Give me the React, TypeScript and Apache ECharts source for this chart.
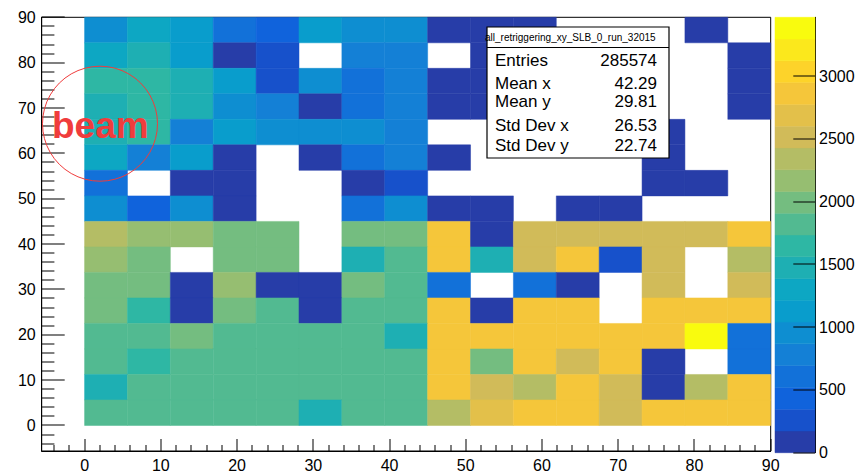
import React, { useEffect, useRef } from "react";
import * as echarts from "echarts";

// Histogram binning: 16 x 16 bins spanning 0..90 on both axes, frame starts one bin below 0
const N_BINS = 16;
const HIST_MAX = 90;
const BIN_WIDTH = HIST_MAX / N_BINS;
const FRAME_MIN = -BIN_WIDTH;

// Bin contents, one list per y bin, from the top row (y 84.4-90) down to the bottom row (y 0-5.6)
const countsByRow: number[][] = [
  [960, 1290, 1130, 610, 440, 1150, 940, 990, 110, 70, 130, 0, 0, 0, 95, 0],
  [1310, 1480, 1110, 120, 280, 0, 790, 760, 0, 105, 85, 0, 0, 0, 0, 140],
  [1660, 1690, 1450, 1100, 300, 920, 620, 800, 90, 120, 60, 80, 0, 0, 0, 100],
  [1500, 1640, 1470, 980, 770, 130, 600, 810, 140, 110, 0, 0, 0, 0, 0, 125],
  [1430, 1700, 820, 1140, 900, 950, 1010, 780, 0, 0, 0, 0, 0, 115, 0, 0],
  [1320, 800, 1090, 100, 0, 150, 650, 830, 120, 0, 0, 0, 0, 90, 0, 0],
  [640, 0, 140, 95, 0, 0, 60, 250, 0, 0, 0, 0, 0, 130, 110, 0],
  [1000, 450, 940, 125, 0, 0, 580, 900, 105, 80, 0, 135, 90, 0, 0, 0],
  [2350, 2170, 2120, 1990, 2010, 0, 1960, 2030, 2870, 150, 2500, 2540, 2480, 2520, 2560, 2900],
  [2200, 2050, 0, 1950, 2000, 0, 1480, 1820, 2850, 1500, 2470, 2880, 300, 2530, 0, 2330],
  [1980, 2040, 120, 2190, 90, 145, 2020, 1850, 640, 0, 620, 110, 0, 2500, 0, 2450],
  [1940, 1680, 130, 2000, 1800, 100, 1780, 1840, 2900, 120, 2860, 2820, 0, 2890, 2840, 2910],
  [1810, 1860, 1950, 1840, 1790, 1830, 1870, 1450, 2880, 2850, 2900, 2870, 2830, 2860, 3468, 630],
  [1800, 1700, 1830, 1850, 1820, 1790, 1860, 1810, 2890, 2010, 2870, 2520, 2840, 140, 0, 650],
  [1460, 1820, 1840, 1800, 1850, 1810, 1790, 1830, 2860, 2480, 2300, 2900, 2510, 120, 2350, 2880],
  [1840, 1800, 1820, 1860, 1790, 1470, 1810, 1850, 2320, 2650, 2880, 2850, 2540, 2900, 2870, 2830],
];

// Axis tick values
const majorTicks = [0, 10, 20, 30, 40, 50, 60, 70, 80, 90];
const minorTicks = [
  -4, -2, 2, 4, 6, 8, 12, 14, 16, 18, 22, 24, 26, 28, 32, 34, 36, 38, 42, 44, 46, 48,
  52, 54, 56, 58, 62, 64, 66, 68, 72, 74, 76, 78, 82, 84, 86, 88,
];
const zTicks = [0, 500, 1000, 1500, 2000, 2500, 3000];

// Statistics box
const statsTitle = "all_retriggering_xy_SLB_0_run_32015";
const statsLabels = ["Entries", "Mean x", "Mean y", "Std Dev x", "Std Dev y"];
const statsValues = ["285574", "42.29", "29.81", "26.53", "22.74"];

// ROOT kBird palette, 20 contour levels
const BIRD_STOPS = [0, 0.125, 0.25, 0.375, 0.5, 0.625, 0.75, 0.875, 1];
const BIRD_R = [0.2082, 0.0592, 0.078, 0.0232, 0.1802, 0.5301, 0.8186, 0.9956, 0.9764];
const BIRD_G = [0.1664, 0.3599, 0.5041, 0.6419, 0.7178, 0.7492, 0.7328, 0.7862, 0.9832];
const BIRD_B = [0.5293, 0.8684, 0.8385, 0.7914, 0.6425, 0.4662, 0.3499, 0.1968, 0.0539];
const N_CONTOURS = 20;

function birdColor(t: number): string {
  let k = 0;
  while (k < BIRD_STOPS.length - 2 && t > BIRD_STOPS[k + 1]) k++;
  const f = (t - BIRD_STOPS[k]) / (BIRD_STOPS[k + 1] - BIRD_STOPS[k]);
  const c = (a: number[]) => Math.round(255 * (a[k] + (a[k + 1] - a[k]) * f));
  return `rgb(${c(BIRD_R)},${c(BIRD_G)},${c(BIRD_B)})`;
}

const levelColors = Array.from({ length: N_CONTOURS }, (_, i) =>
  birdColor(Math.floor(((i + 0.99) * 255) / N_CONTOURS) / 254)
);

const FONT = '"Liberation Sans", Arial, Helvetica, sans-serif';
const plain = (v: number) => String(v);
const blackLine = () => ({ color: "#000", width: 1 });
const labelStyle = () => ({ color: "#000", fontSize: 16, fontFamily: FONT, formatter: plain });

// Tick marks pointing into the frame, drawn as 1px bars placed through the axis scales.
// dx/dy give the tick's extent from the frame edge (one of them is 0).
function tickSeries(
  name: string, axisIndex: number, values: number[],
  toPoint: (api: any, v: number) => number[], dx: number, dy: number
) {
  return {
    type: "custom",
    name,
    xAxisIndex: axisIndex,
    yAxisIndex: axisIndex,
    z: 3,
    silent: true,
    data: values.map((v) => [v]),
    renderItem: (params: any, api: any) => {
      const v = values[params.dataIndex];
      const p = toPoint(api, v);
      const shape =
        dx === 0
          ? { x: Math.round(p[0]) - 0.5, y: Math.min(p[1], p[1] + dy), width: 1, height: Math.abs(dy) }
          : { x: Math.min(p[0], p[0] + dx), y: Math.round(p[1]) - 0.5, width: Math.abs(dx), height: 1 };
      return { type: "rect", shape, style: { fill: "#000" } };
    },
  };
}

function buildOption() {
  const cells: number[][] = [];
  countsByRow.forEach((row, r) => {
    const yBin = N_BINS - 1 - r;
    row.forEach((v, c) => {
      if (v > 0) cells.push([c * BIN_WIDTH, yBin * BIN_WIDTH, v]);
    });
  });
  const zMax = Math.max(...countsByRow.map((row) => Math.max(...row)));
  const step = zMax / N_CONTOURS;
  const levelOf = (v: number) => Math.min(N_CONTOURS - 1, Math.floor(v / step));
  const levels = levelColors.map((_, i) => [i]);

  const frame = { left: 41.7, top: 17.3, width: 729, height: 435.4 };

  const statsTexts: any[] = [];
  const rowY = [60.5, 83, 101, 125, 145.5];
  statsLabels.forEach((label, i) => {
    statsTexts.push({
      type: "text",
      z: 102,
      style: {
        text: label, x: 495, y: rowY[i], fill: "#000",
        fontSize: 17, fontFamily: FONT,
        textAlign: "left", align: "left", textVerticalAlign: "middle", verticalAlign: "middle",
      },
    });
    statsTexts.push({
      type: "text",
      z: 102,
      style: {
        text: statsValues[i], x: 657, y: rowY[i], fill: "#000",
        fontSize: 17, fontFamily: FONT,
        textAlign: "right", align: "right", textVerticalAlign: "middle", verticalAlign: "middle",
      },
    });
  });

  const frameAxis = () => ({
    gridIndex: 0,
    type: "value",
    min: FRAME_MIN,
    max: HIST_MAX,
    axisLine: { show: true, onZero: false, lineStyle: blackLine() },
    axisTick: { show: false },
    axisLabel: { ...labelStyle(), customValues: majorTicks, margin: 6 },
    splitLine: { show: false },
  });

  const xTick = (api: any, v: number) => api.coord([v, FRAME_MIN]);
  const yTick = (api: any, v: number) => api.coord([FRAME_MIN, v]);
  const zTick = (api: any, v: number) => api.coord([1, v]);

  return {
    animation: false,
    grid: [
      { ...frame, show: true, borderColor: "#000", borderWidth: 1, backgroundColor: "transparent" },
      { left: 775, top: 17.3, width: 40, height: 435.4 },
    ],
    xAxis: [
      frameAxis(),
      {
        gridIndex: 1, type: "value", min: 0, max: 1,
        axisLine: { show: false }, axisTick: { show: false }, axisLabel: { show: false },
        splitLine: { show: false },
      },
    ],
    yAxis: [
      frameAxis(),
      {
        gridIndex: 1, type: "value", min: 0, max: zMax, position: "right",
        axisLine: { show: true, onZero: false, lineStyle: blackLine() },
        axisTick: { show: false },
        axisLabel: { ...labelStyle(), customValues: zTicks, margin: 4 },
        splitLine: { show: false },
      },
    ],
    series: [
      {
        type: "custom",
        name: "xy",
        xAxisIndex: 0,
        yAxisIndex: 0,
        z: 1,
        data: cells,
        encode: { x: 0, y: 1 },
        renderItem: (_params: any, api: any) => {
          const x0 = api.value(0);
          const y0 = api.value(1);
          const v = api.value(2);
          const p0 = api.coord([x0, y0 + BIN_WIDTH]);
          const p1 = api.coord([x0 + BIN_WIDTH, y0]);
          const color = levelColors[levelOf(v)];
          return {
            type: "rect",
            shape: { x: p0[0], y: p0[1], width: p1[0] - p0[0], height: p1[1] - p0[1] },
            style: { fill: color, stroke: color, lineWidth: 0.5 },
          };
        },
      },
      {
        type: "custom",
        name: "palette",
        xAxisIndex: 1,
        yAxisIndex: 1,
        z: 1,
        data: levels,
        renderItem: (_params: any, api: any) => {
          const i = api.value(0);
          const p0 = api.coord([0, (i + 1) * step]);
          const p1 = api.coord([1, i * step]);
          const color = levelColors[i];
          return {
            type: "rect",
            shape: { x: p0[0], y: p0[1], width: p1[0] - p0[0], height: p1[1] - p0[1] },
            style: { fill: color, stroke: color, lineWidth: 0.5 },
          };
        },
      },
      tickSeries("xMajor", 0, majorTicks, xTick, 0, -12),
      tickSeries("xMinor", 0, minorTicks, xTick, 0, -6),
      tickSeries("yMajor", 0, majorTicks, yTick, 23, 0),
      tickSeries("yMinor", 0, minorTicks, yTick, 12.7, 0),
      tickSeries("zMajor", 1, zTicks, zTick, -21.7, 0),
    ],
    graphic: [
      {
        type: "circle", z: 100,
        shape: { cx: 100, cy: 123.7, r: 57.5 },
        style: { fill: "transparent", stroke: "#f03c3c", lineWidth: 1 },
      },
      {
        type: "text", z: 100,
        style: {
          text: "beam", x: 52, y: 125, fill: "#f03c3c",
          fontSize: 37, fontWeight: "bold", fontFamily: FONT,
          textAlign: "left", align: "left", textVerticalAlign: "middle", verticalAlign: "middle",
        },
      },
      {
        type: "rect", z: 100,
        shape: { x: 487, y: 27, width: 182, height: 131 },
        style: { fill: "#fff", stroke: "#000", lineWidth: 1.2 },
      },
      {
        type: "line", z: 101,
        shape: { x1: 487, y1: 47.5, x2: 669, y2: 47.5 },
        style: { stroke: "#000", lineWidth: 1 },
      },
      {
        type: "text", z: 102,
        style: {
          text: statsTitle, x: 485, y: 37, fill: "#000",
          fontSize: 10, fontFamily: FONT,
          textAlign: "left", align: "left", textVerticalAlign: "middle", verticalAlign: "middle",
        },
      },
      ...statsTexts,
    ],
  };
}

export default function App() {
  const ref = useRef<HTMLDivElement>(null);
  useEffect(() => {
    if (!ref.current) return;
    const chart = echarts.init(ref.current, null, { renderer: "svg" });
    chart.setOption(buildOption() as any);
    return () => chart.dispose();
  }, []);
  return (
    <div
      ref={ref}
      style={{ position: "fixed", left: 0, top: 0, width: 859, height: 473, background: "#fff" }}
    />
  );
}
